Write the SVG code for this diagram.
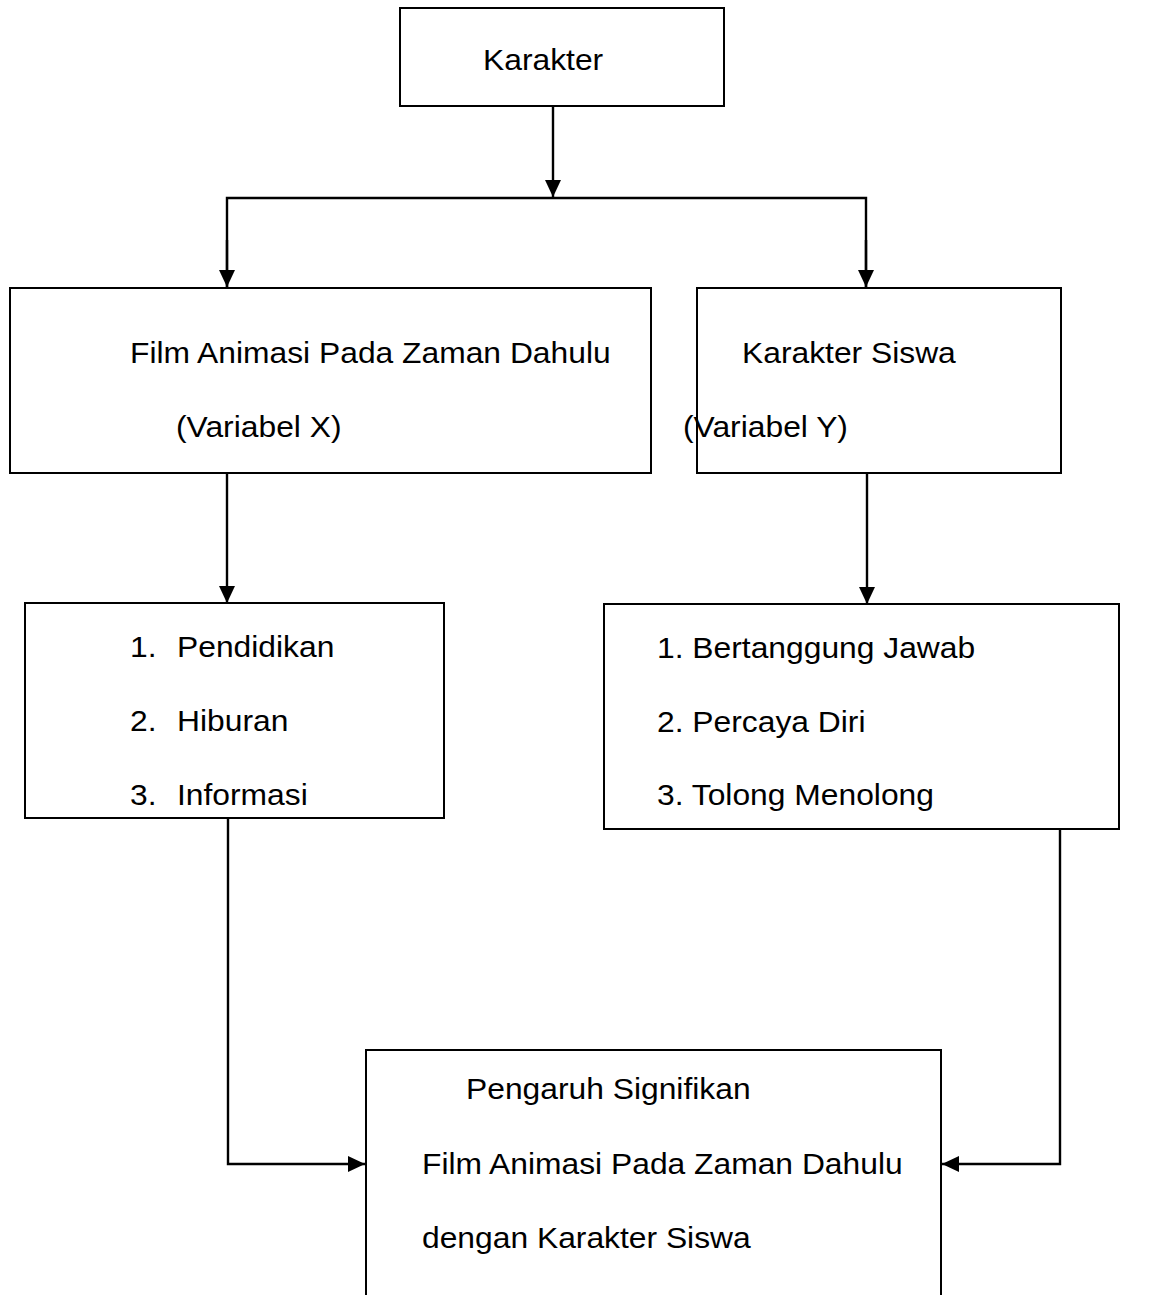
<svg xmlns="http://www.w3.org/2000/svg" width="1151" height="1295" viewBox="0 0 1151 1295">
<style>
.box{fill:#fff;stroke:#000;stroke-width:2}
.t{font-family:"Liberation Sans",Arial,sans-serif;font-size:30px;fill:#000}
.c{fill:none;stroke:#000;stroke-width:2.4}
</style>
<defs>
<marker id="ah" markerUnits="userSpaceOnUse" markerWidth="18" markerHeight="18" refX="17" refY="8" orient="auto">
<path d="M0,0 L17,8 L0,16 z" fill="#000"/>
</marker>
</defs>
<rect width="1151" height="1295" fill="#fff"/>
<g id="connectors">
<path class="c" d="M553,106 L553,197" marker-end="url(#ah)"/>
<path class="c" d="M227,288 L227,198 L866,198 L866,288"/>
<path class="c" d="M227,240 L227,287" marker-end="url(#ah)"/>
<path class="c" d="M866,240 L866,287" marker-end="url(#ah)"/>
<path class="c" d="M227,473 L227,603" marker-end="url(#ah)"/>
<path class="c" d="M867,473 L867,604" marker-end="url(#ah)"/>
<path class="c" d="M228,818 L228,1164 L365,1164" marker-end="url(#ah)"/>
<path class="c" d="M1060,829 L1060,1164 L942,1164" marker-end="url(#ah)"/>
</g>
<g id="karakter">
<rect class="box" x="400" y="8" width="324" height="98"/>
<text class="t" transform="translate(483 70) scale(1.06 1)">Karakter</text>
</g>
<g id="film-animasi">
<rect class="box" x="10" y="288" width="641" height="185"/>
<text class="t" transform="translate(130 363) scale(1.06 1)">Film Animasi Pada Zaman Dahulu</text>
<text class="t" transform="translate(176 437) scale(1.06 1)">(Variabel X)</text>
</g>
<g id="karakter-siswa">
<rect class="box" x="697" y="288" width="364" height="185"/>
<text class="t" transform="translate(742 363) scale(1.06 1)">Karakter Siswa</text>
<text class="t" transform="translate(683 437) scale(1.06 1)">(Variabel Y)</text>
</g>
<g id="indikator-x">
<rect class="box" x="25" y="603" width="419" height="215"/>
<text class="t" transform="translate(130 657) scale(1.06 1)">1.</text>
<text class="t" transform="translate(177 657) scale(1.06 1)">Pendidikan</text>
<text class="t" transform="translate(130 731) scale(1.06 1)">2.</text>
<text class="t" transform="translate(177 731) scale(1.06 1)">Hiburan</text>
<text class="t" transform="translate(130 805) scale(1.06 1)">3.</text>
<text class="t" transform="translate(177 805) scale(1.06 1)">Informasi</text>
</g>
<g id="indikator-y">
<rect class="box" x="604" y="604" width="515" height="225"/>
<text class="t" transform="translate(657 658) scale(1.06 1)">1. Bertanggung Jawab</text>
<text class="t" transform="translate(657 732) scale(1.06 1)">2. Percaya Diri</text>
<text class="t" transform="translate(657 805) scale(1.06 1)">3. Tolong Menolong</text>
</g>
<g id="pengaruh">
<rect class="box" x="366" y="1050" width="575" height="260"/>
<text class="t" transform="translate(466 1099) scale(1.06 1)">Pengaruh Signifikan</text>
<text class="t" transform="translate(422 1174) scale(1.06 1)">Film Animasi Pada Zaman Dahulu</text>
<text class="t" transform="translate(422 1248) scale(1.06 1)">dengan Karakter Siswa</text>
</g>
</svg>
